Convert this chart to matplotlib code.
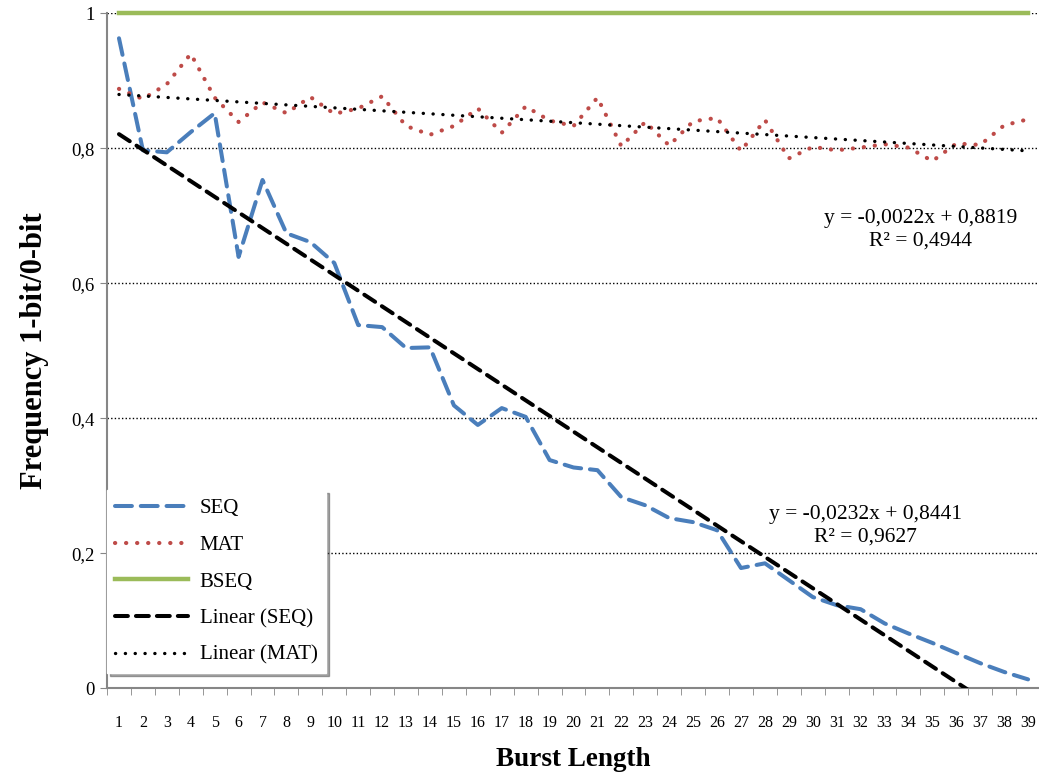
import matplotlib
matplotlib.use('Agg')
import matplotlib.pyplot as plt
from matplotlib.ticker import FixedLocator, FuncFormatter

plt.rcParams['font.family'] = ['Liberation Serif', 'DejaVu Serif']

burst = list(range(1, 40))
seq = [0.963, 0.797, 0.794, 0.824, 0.852, 0.639, 0.753, 0.674, 0.661, 0.630,
       0.538, 0.535, 0.504, 0.505, 0.419, 0.390, 0.415, 0.402, 0.338, 0.327,
       0.323, 0.283, 0.271, 0.252, 0.246, 0.234, 0.178, 0.185, 0.160, 0.135,
       0.123, 0.117, 0.096, 0.081, 0.067, 0.052, 0.037, 0.024, 0.013]
mat = [0.888, 0.873, 0.895, 0.940, 0.875, 0.839, 0.868, 0.852, 0.876, 0.851,
       0.859, 0.877, 0.833, 0.820, 0.833, 0.859, 0.823, 0.862, 0.841, 0.833,
       0.875, 0.803, 0.839, 0.804, 0.840, 0.845, 0.796, 0.842, 0.785, 0.802,
       0.797, 0.801, 0.806, 0.801, 0.781, 0.807, 0.805, 0.834, 0.843]
bseq = [1.0] * 39

# trend lines as shown on the chart
seq_slope, seq_icpt, seq_r2 = -0.0232, 0.8441, 0.9627
mat_slope, mat_icpt, mat_r2 = -0.0022, 0.8819, 0.4944

fig = plt.figure(figsize=(10.39, 7.82), dpi=100)
ax = fig.add_axes([0.103, 0.120, 0.898, 0.863])

ax.plot(burst, seq, color='#4a7ebb', lw=2.9, dashes=(4.2, 2.2),
        dash_capstyle='round', label='SEQ', zorder=3)
ax.plot(burst, mat, color='#be4b48', lw=3.0, linestyle=(0, (0.05, 2.6)),
        dash_capstyle='round', label='MAT', zorder=3)
ax.plot(burst, bseq, color='#9bbb59', lw=3.2, label='BSEQ', clip_on=False, zorder=3)

seq_fit = [seq_slope * b + seq_icpt for b in burst]
mat_fit = [mat_slope * b + mat_icpt for b in burst]
ax.plot(burst, seq_fit, color='black', lw=2.9, dashes=(3.2, 2.0),
        dash_capstyle='round', label='Linear (SEQ)', zorder=4)
ax.plot(burst, mat_fit, color='black', lw=2.4, linestyle=(0, (0.05, 2.9)),
        dash_capstyle='round', label='Linear (MAT)', zorder=4)

ax.set_xlim(0.5, 39.5)
ax.set_ylim(0, 1)

ax.set_xticks(burst)
ax.set_xticklabels([str(b) for b in burst], fontsize=11.5)
ax.xaxis.set_minor_locator(FixedLocator([b + 0.5 for b in range(0, 40)]))
ax.tick_params(axis='x', which='major', length=0, pad=19)
ax.tick_params(axis='x', which='minor', length=5, color='#868686', direction='out')

ax.set_yticks([0, 0.2, 0.4, 0.6, 0.8, 1.0])
ax.yaxis.set_major_formatter(FuncFormatter(
    lambda v, p: '0' if v == 0 else ('1' if v == 1 else ('%.1f' % v).replace('.', ','))))
ax.tick_params(axis='y', length=5, color='#868686', labelsize=13.5, pad=4)

ax.grid(axis='y', color='black', linestyle=(0, (1, 1.6)), lw=1.0)
ax.set_axisbelow(True)

for s in ['top', 'right']:
    ax.spines[s].set_visible(False)
ax.spines['left'].set_color('#868686')
ax.spines['bottom'].set_color('#868686')
ax.spines['left'].set_linewidth(1.5)
ax.spines['bottom'].set_linewidth(1.5)

ax.set_xlabel('Burst Length', fontsize=19.5, fontweight='bold', labelpad=12)
ax.set_ylabel('Frequency 1-bit/0-bit', fontsize=22, fontweight='bold', labelpad=16)

ax.text(34.5, 0.679,
        'y = -0,0022x + 0,8819\nR\u00b2 = 0,4944',
        fontsize=15.5, ha='center', va='center', linespacing=1.25)
ax.text(32.2, 0.241,
        'y = -0,0232x + 0,8441\nR\u00b2 = 0,9627',
        fontsize=15.5, ha='center', va='center', linespacing=1.25)

leg = ax.legend(loc='lower left', bbox_to_anchor=(0.0, 0.022), fontsize=15,
                handlelength=3.5, labelspacing=0.82, borderaxespad=0,
                handletextpad=0.55, fancybox=False, shadow=True, framealpha=1,
                edgecolor='white', borderpad=0.4)
leg.set_zorder(10)

fig.savefig('out.png', dpi=100)
